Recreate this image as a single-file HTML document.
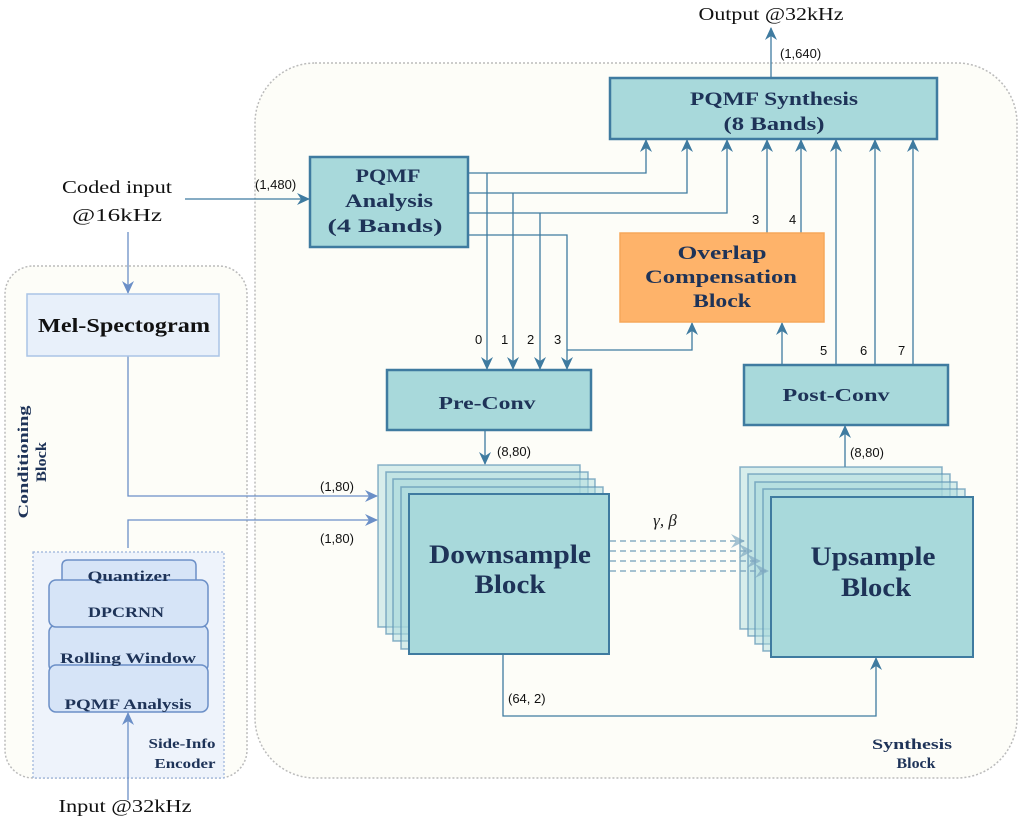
<!DOCTYPE html>
<html><head><meta charset="utf-8"><style>
html,body{margin:0;padding:0;background:#fff}
svg{display:block}
.t{font-family:"Liberation Serif",serif;font-weight:bold;fill:#1e3358;text-anchor:middle}
.s{font-family:"Liberation Sans",sans-serif;fill:#111;font-size:13px}
.n{font-family:"Liberation Serif",serif;fill:#111;text-anchor:middle}
</style></head><body>
<svg width="1025" height="819" viewBox="0 0 1025 819" xmlns="http://www.w3.org/2000/svg">
<defs>
<marker id="a" markerWidth="14" markerHeight="14" refX="12" refY="6" orient="auto" markerUnits="userSpaceOnUse"><path d="M0,0 L13,6 L0,12 L4,6z" fill="#3f7ba0"/></marker>
<marker id="b" markerWidth="14" markerHeight="14" refX="12" refY="6" orient="auto" markerUnits="userSpaceOnUse"><path d="M0,0 L13,6 L0,12 L4,6z" fill="#6b8fc7"/></marker>
<marker id="c" markerWidth="16" markerHeight="16" refX="13" refY="7" orient="auto" markerUnits="userSpaceOnUse"><path d="M0,0 L14,7 L0,14 L5,7z" fill="#7fa8c0" fill-opacity="0.7"/></marker>
</defs>
<rect width="1025" height="819" fill="#fff"/>
<rect x="255" y="63" width="762" height="715" rx="60" fill="#fdfdf8" stroke="#bbb" stroke-width="1.5" stroke-dasharray="2,2"/>
<rect x="5" y="266" width="242" height="512" rx="28" fill="#fdfdf8" stroke="#bbb" stroke-width="1.5" stroke-dasharray="2,2"/>
<rect x="33" y="552" width="191" height="226" fill="#eef3fb" stroke="#9ab3da" stroke-width="1.2" stroke-dasharray="2,2"/>

<text class="n" x="771" y="20" font-size="18" textLength="145" lengthAdjust="spacingAndGlyphs">Output @32kHz</text>
<text class="s" x="780" y="58">(1,640)</text>
<text class="n" x="117" y="193" font-size="18" textLength="110" lengthAdjust="spacingAndGlyphs">Coded input</text>
<text class="n" x="117" y="221" font-size="18" textLength="90" lengthAdjust="spacingAndGlyphs">@16kHz</text>
<text class="s" x="255" y="189">(1,480)</text>
<text class="n" x="125" y="812" font-size="18" textLength="133" lengthAdjust="spacingAndGlyphs">Input @32kHz</text>
<text class="t" font-size="15" transform="translate(28,462) rotate(-90)" textLength="113" lengthAdjust="spacingAndGlyphs">Conditioning</text>
<text class="t" font-size="15" transform="translate(46,462) rotate(-90)" textLength="40" lengthAdjust="spacingAndGlyphs">Block</text>
<text class="t" x="912" y="749" font-size="15" textLength="80" lengthAdjust="spacingAndGlyphs">Synthesis</text>
<text class="t" x="916" y="768" font-size="15" textLength="39" lengthAdjust="spacingAndGlyphs">Block</text>

<g stroke="#3f7ba0" stroke-width="1.3" fill="none">
<line x1="771" y1="78" x2="771" y2="28" marker-end="url(#a)"/>
<line x1="185" y1="199" x2="309" y2="199" marker-end="url(#a)"/>
<polyline points="468,173 646,173 646,140" marker-end="url(#a)"/>
<polyline points="468,193 687,193 687,140" marker-end="url(#a)"/>
<polyline points="468,213 727,213 727,140" marker-end="url(#a)"/>
<polyline points="468,235 567,235 567,369" marker-end="url(#a)"/>
<polyline points="487,173 487,369" marker-end="url(#a)"/>
<polyline points="513,193 513,369" marker-end="url(#a)"/>
<polyline points="540,213 540,369" marker-end="url(#a)"/>
<polyline points="567,350 692,350 692,323" marker-end="url(#a)"/>
<line x1="767" y1="233" x2="767" y2="140" marker-end="url(#a)"/>
<line x1="801" y1="233" x2="801" y2="140" marker-end="url(#a)"/>
<line x1="782" y1="365" x2="782" y2="323" marker-end="url(#a)"/>
<line x1="836" y1="365" x2="836" y2="140" marker-end="url(#a)"/>
<line x1="875" y1="365" x2="875" y2="140" marker-end="url(#a)"/>
<line x1="913" y1="365" x2="913" y2="140" marker-end="url(#a)"/>
<line x1="485" y1="430" x2="485" y2="464" marker-end="url(#a)"/>
<line x1="845" y1="467" x2="845" y2="426" marker-end="url(#a)"/>
<polyline points="503,654 503,716 876,716 876,658" marker-end="url(#a)"/>
</g>
<g stroke="#6b8fc7" stroke-width="1.3" fill="none">
<line x1="128" y1="232" x2="128" y2="293" marker-end="url(#b)"/>
<polyline points="128,356 128,496 377,496" marker-end="url(#b)"/>
<polyline points="128,548 128,520 377,520" marker-end="url(#b)"/>
<line x1="128" y1="800" x2="128" y2="713" marker-end="url(#b)"/>
</g>
<text class="s" x="475" y="344">0</text><text class="s" x="501" y="344">1</text>
<text class="s" x="527" y="344">2</text><text class="s" x="554" y="344">3</text>
<text class="s" x="752" y="224">3</text><text class="s" x="789" y="224">4</text>
<text class="s" x="820" y="355">5</text><text class="s" x="860" y="355">6</text><text class="s" x="898" y="355">7</text>
<text class="s" x="497" y="456">(8,80)</text>
<text class="s" x="850" y="457">(8,80)</text>
<text class="s" x="320" y="491">(1,80)</text>
<text class="s" x="320" y="543">(1,80)</text>
<text class="s" x="508" y="703">(64, 2)</text>

<g stroke="#3f7ba0" stroke-width="2.5" fill="#a8d9db">
<rect x="610" y="78" width="327" height="61"/>
<rect x="310" y="157" width="158" height="90"/>
<rect x="387" y="370" width="204" height="60"/>
<rect x="744" y="365" width="204" height="60"/>
</g>
<rect x="620" y="233" width="204" height="89" fill="#feb36a" stroke="#f6a85a" stroke-width="1.5"/>
<text class="t" x="774" y="105" font-size="19" textLength="168" lengthAdjust="spacingAndGlyphs">PQMF Synthesis</text>
<text class="t" x="774" y="130" font-size="19" textLength="101" lengthAdjust="spacingAndGlyphs">(8 Bands)</text>
<text class="t" x="388" y="182" font-size="19" textLength="65" lengthAdjust="spacingAndGlyphs">PQMF</text>
<text class="t" x="389" y="207" font-size="19" textLength="88" lengthAdjust="spacingAndGlyphs">Analysis</text>
<text class="t" x="385" y="232" font-size="19" textLength="115" lengthAdjust="spacingAndGlyphs">(4 Bands)</text>
<text class="t" x="722" y="259" font-size="19" textLength="89" lengthAdjust="spacingAndGlyphs">Overlap</text>
<text class="t" x="721" y="283" font-size="19" textLength="152" lengthAdjust="spacingAndGlyphs">Compensation</text>
<text class="t" x="722" y="307" font-size="19" textLength="58" lengthAdjust="spacingAndGlyphs">Block</text>
<text class="t" x="487" y="409" font-size="18" textLength="97" lengthAdjust="spacingAndGlyphs">Pre-Conv</text>
<text class="t" x="836" y="401" font-size="18" textLength="107" lengthAdjust="spacingAndGlyphs">Post-Conv</text>

<g stroke="#5d93b3" stroke-width="1.5" fill="#a8d9db" fill-opacity="0.45" stroke-opacity="0.7">
<rect x="378" y="465" width="202" height="162"/>
<rect x="386" y="472" width="202" height="162"/>
<rect x="393" y="479" width="202" height="162"/>
<rect x="401" y="487" width="202" height="162"/>
<rect x="740" y="467" width="202" height="162"/>
<rect x="748" y="474" width="202" height="162"/>
<rect x="755" y="482" width="202" height="162"/>
<rect x="763" y="489" width="202" height="162"/>
</g>
<rect x="409" y="494" width="200" height="160" fill="#a8d9db" stroke="#3f7ba0" stroke-width="2"/>
<rect x="771" y="497" width="202" height="160" fill="#a8d9db" stroke="#3f7ba0" stroke-width="2"/>
<text class="t" x="510" y="563" font-size="26" textLength="162" lengthAdjust="spacingAndGlyphs">Downsample</text>
<text class="t" x="510" y="593" font-size="26" textLength="71" lengthAdjust="spacingAndGlyphs">Block</text>
<text class="t" x="873" y="565" font-size="26" textLength="125" lengthAdjust="spacingAndGlyphs">Upsample</text>
<text class="t" x="876" y="596" font-size="26" textLength="70" lengthAdjust="spacingAndGlyphs">Block</text>
<text x="665" y="526" font-family="Liberation Serif,serif" font-style="italic" font-size="17" fill="#222" text-anchor="middle">γ, β</text>
<g stroke="#7fa8c0" stroke-width="2" stroke-dasharray="6,4" stroke-opacity="0.7">
<line x1="610" y1="541" x2="744" y2="541" marker-end="url(#c)"/>
<line x1="610" y1="551" x2="752" y2="551" marker-end="url(#c)"/>
<line x1="610" y1="561" x2="760" y2="561" marker-end="url(#c)"/>
<line x1="610" y1="571" x2="768" y2="571" marker-end="url(#c)"/>
</g>

<rect x="27" y="294" width="192" height="62" fill="#e8f0fa" stroke="#aac4e6" stroke-width="1.5"/>
<text class="t" x="124" y="332" font-size="20" style="fill:#111" textLength="172" lengthAdjust="spacingAndGlyphs">Mel-Spectogram</text>
<g fill="#d6e4f7" stroke="#6b8fc7" stroke-width="1.5">
<path d="M62,592 L62,566 Q62,560 68,560 L190,560 Q196,560 196,566 L196,592z"/>
<rect x="49" y="625" width="159" height="47" rx="7"/>
<rect x="49" y="580" width="159" height="47" rx="7"/>
<rect x="49" y="665" width="159" height="47" rx="7"/>
</g>
<text class="t" x="129" y="581" font-size="15" textLength="83" lengthAdjust="spacingAndGlyphs">Quantizer</text>
<text class="t" x="126" y="617" font-size="15" textLength="76" lengthAdjust="spacingAndGlyphs">DPCRNN</text>
<text class="t" x="128" y="663" font-size="15" textLength="136" lengthAdjust="spacingAndGlyphs">Rolling Window</text>
<text class="t" x="128" y="709" font-size="15" textLength="127" lengthAdjust="spacingAndGlyphs">PQMF Analysis</text>
<text class="t" x="182" y="748" font-size="14" textLength="67" lengthAdjust="spacingAndGlyphs">Side-Info</text>
<text class="t" x="185" y="768" font-size="14" textLength="61" lengthAdjust="spacingAndGlyphs">Encoder</text>
</svg>
</body></html>
